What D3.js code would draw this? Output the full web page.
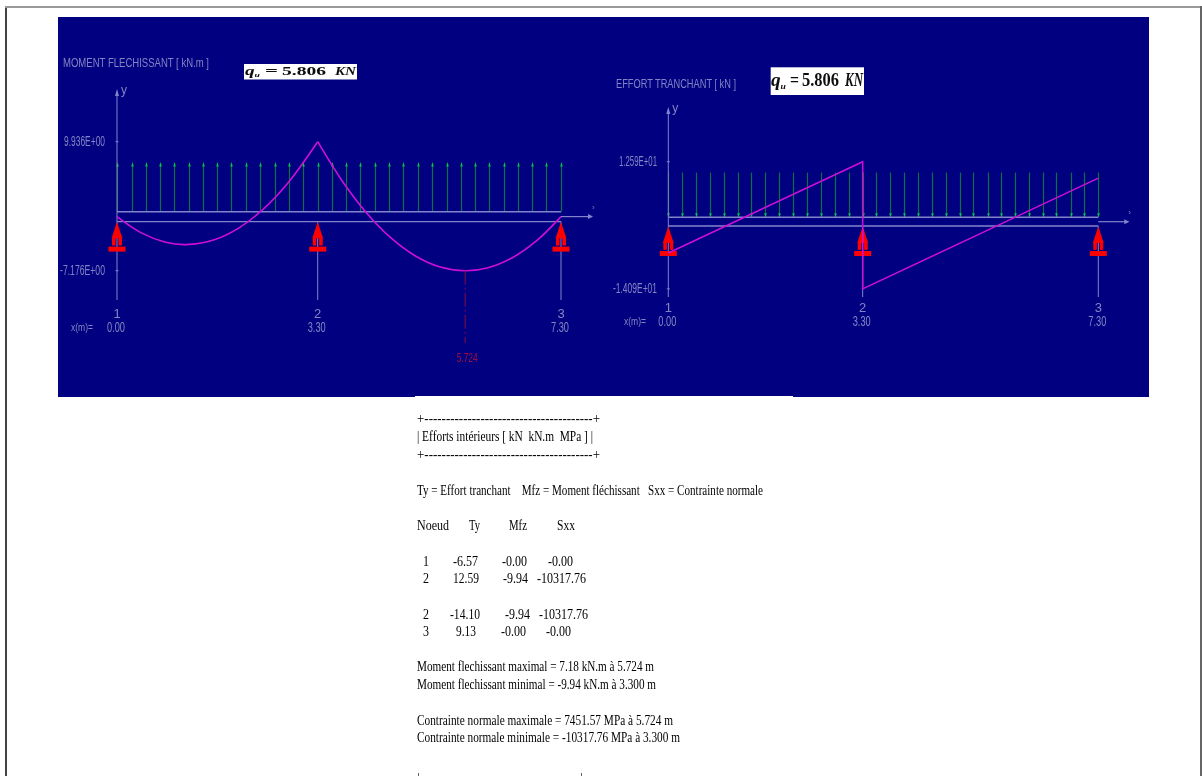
<!DOCTYPE html>
<html><head><meta charset="utf-8">
<script src="https://cdn.jsdelivr.net/npm/d3@7/dist/d3.min.js"></script>
<style>html,body{margin:0;padding:0;background:#fff;overflow:hidden}svg{display:block}</style></head>
<body><svg id="c" width="1202" height="776"></svg>
<script>
// ---- data ----
const nodeIds = ["1","2","3"];
const nodeX = [0, 3.3, 7.3];
const nodeLabels = ["0.00","3.30","7.30"];
const loadStations = [0,0.24,0.47,0.71,0.94,1.18,1.41,1.65,1.88,2.12,2.35,2.59,2.83,3.06,3.3,3.53,3.77,4.0,4.24,4.47,4.71,4.95,5.18,5.42,5.65,5.89,6.12,6.36,6.59,6.83,7.06,7.3];
const momentX = [0,0.4,0.8,1.13,1.6,2,2.4,2.8,3.3];
const momentY = [0,-2.16,-3.40,-3.72,-3.08,-1.53,0.95,4.36,9.936];
const moment2X = [3.3,3.7,4.1,4.5,4.9,5.3,5.724,6.1,6.5,6.9,7.3];
const moment2Y = [9.936,4.76,0.52,-2.80,-5.19,-6.65,-7.176,-6.78,-5.45,-3.2,0];
const shearX = [0,3.3,3.3,7.3];
const shearY = [-6.57,12.59,-14.09,9.13];
const momentTicks = [9.936,-7.176];
const momentTickLabels = ["9.936E+00","-7.176E+00"];
const shearTicks = [12.59,-14.09];
const shearTickLabels = ["1.259E+01","-1.409E+01"];
const maxMomentX = 5.724;
const tableLines = [
 {t:"+---------------------------------------+",x:417,y:423,w:183},
 {t:"| Efforts intérieurs [ kN  kN.m  MPa ] |",x:417,y:441,w:176},
 {t:"+---------------------------------------+",x:417,y:459,w:183},
 {t:"Ty = Effort tranchant    Mfz = Moment fléchissant   Sxx = Contrainte normale",x:417,y:495,w:346},
 {t:"Noeud",x:417,y:530,w:32},{t:"Ty",x:469,y:530,w:11},{t:"Mfz",x:509,y:530,w:18},{t:"Sxx",x:557,y:530,w:18},
 {t:"1",x:423,y:566,w:6},{t:"-6.57",x:453,y:566,w:25},{t:"-0.00",x:502,y:566,w:25},{t:"-0.00",x:548,y:566,w:25},
 {t:"2",x:423,y:583,w:6},{t:"12.59",x:453,y:583,w:26},{t:"-9.94",x:503,y:583,w:25},{t:"-10317.76",x:537,y:583,w:49},
 {t:"2",x:423,y:619,w:6},{t:"-14.10",x:450,y:619,w:30},{t:"-9.94",x:505,y:619,w:25},{t:"-10317.76",x:539,y:619,w:49},
 {t:"3",x:423,y:636,w:6},{t:"9.13",x:456,y:636,w:20},{t:"-0.00",x:501,y:636,w:25},{t:"-0.00",x:546,y:636,w:25},
 {t:"Moment flechissant maximal = 7.18 kN.m à 5.724 m",x:417,y:671,w:237},
 {t:"Moment flechissant minimal = -9.94 kN.m à 3.300 m",x:417,y:689,w:239},
 {t:"Contrainte normale maximale = 7451.57 MPa à 5.724 m",x:417,y:725,w:256},
 {t:"Contrainte normale minimale = -10317.76 MPa à 3.300 m",x:417,y:742,w:263},
 {t:"+",x:415,y:781,w:7},{t:"+",x:578,y:781,w:7}
];
// ---- drawing ----
const BLUE="#000080", AX="#8484cc", TXT="#8484c4", GREEN="#0a7040", HEAD="#00c848", MAG="#d010d8", RED="#ff0000";
const svg=d3.select("#c");
const defs=svg.append("defs");
defs.append("filter").attr("id","soft").append("feGaussianBlur").attr("stdDeviation",0.35);
defs.append("filter").attr("id","softer").append("feGaussianBlur").attr("stdDeviation",0.45);

// page frame
[[5,6,2,770,"#444"],[5,6,1197,2,"#999"],[1200,6,2,770,"#666"]].forEach(r=>
  svg.append("rect").attr("x",r[0]).attr("y",r[1]).attr("width",r[2]).attr("height",r[3]).attr("fill",r[4]));
svg.append("rect").attr("x",58).attr("y",17).attr("width",1091).attr("height",380).attr("fill",BLUE);
svg.append("rect").attr("x",415).attr("y",396).attr("width",378).attr("height",1).attr("fill","#fff");

function diagram(o){
  const x=d3.scaleLinear().domain([0,7.3]).range(o.xr);
  const y=d3.scaleLinear().domain([0,o.tick0]).range([o.y0,o.yTick0]);
  const g=svg.append("g").attr("filter","url(#soft)");
  const tg=svg.append("g").attr("filter","url(#softer)");
  const px=v=>Math.round(v)+0.5;
  const line=(a,b,c,d,col,w)=>g.append("line").attr("x1",a).attr("y1",b).attr("x2",c).attr("y2",d).attr("stroke",col||AX).attr("stroke-width",w||1);
  const txt=(s,a,b,w,size,col,anchor)=>{const t=tg.append("text").attr("x",a).attr("y",b).text(s)
     .attr("font-family","'Liberation Sans Narrow','Liberation Sans',sans-serif").attr("font-size",size||10).attr("fill",col||TXT).attr("text-anchor",anchor||"start");
     if(w) t.attr("textLength",w).attr("lengthAdjust","spacingAndGlyphs");return t;};
  // load arrows
  g.selectAll(".load").data(loadStations).join("line").attr("class","load")
    .attr("x1",d=>px(x(d))).attr("x2",d=>px(x(d))).attr("y1",o.loadTop).attr("y2",o.beamTop).attr("stroke",GREEN).attr("stroke-width",1.2);
  g.selectAll(".head").data(loadStations).join("path").attr("class","head").attr("fill",HEAD)
    .attr("d",d=>{const p=px(x(d));const tip=o.down?o.beamTop:o.loadTop;const s=o.down?-4:4;return `M${p},${tip}L${p-1.3},${tip+s}L${p+1.3},${tip+s}Z`;});
  // beam
  line(x(0),o.beamTop,x(7.3),o.beamTop,AX,1.4);
  line(x(0),o.beamBot,x(7.3),o.beamBot,AX,1.4);
  // axes
  line(x(0),o.axisTop,x(0),o.axisBot);
  g.append("path").attr("d",`M${x(0)},${o.axisTop-3}l-2,7h4z`).attr("fill",AX);
  txt("y",x(0)+4,o.axisTop+2,null,12);
  line(x(7.3),o.y0,x(7.3)+o.xLen,o.y0,AX,1.2);
  g.append("path").attr("d",`M${x(7.3)+o.xLen+1},${o.y0}l-5,-2.5v5z`).attr("fill",AX);
  txt("›",x(7.3)+o.xLen,o.y0-7,null,8);
  // node verticals and labels
  nodeX.forEach((n,i)=>{
    if(i>0) line(x(n),o.beamBot,x(n),o.axisBot);
    txt(nodeIds[i],x(n),o.idY,null,13,TXT,"middle");
    txt(nodeLabels[i],x(n)-1,o.labY,18,14,TXT,"middle");
  });
  txt("x(m)=",o.xmX,o.labY-1,22,10);
  // ticks
  o.ticks.forEach((t,i)=>{line(x(0)-1.5,y(t),x(0)+1.5,y(t));
    txt(o.tickLabels[i],o.tickRight,y(t)+4,o.tickW[i],14,TXT,"end");});
  // supports
  nodeX.forEach(n=>{const c=x(n),t=o.beamBot+.5;
    g.append("path").attr("fill",RED).attr("d",`M${c},${t}L${c-5.5},${t+16.5}H${c+5.5}Z`);
    g.append("rect").attr("x",c-5).attr("y",t+16).attr("width",3.6).attr("height",7.5).attr("rx",1.2).attr("fill",RED);
    g.append("rect").attr("x",c+1.4).attr("y",t+16).attr("width",3.6).attr("height",7.5).attr("rx",1.2).attr("fill",RED);
    g.append("rect").attr("x",c-8.5).attr("y",t+24.5).attr("width",17).attr("height",5).attr("fill",RED);
  });
  o.draw(g,x,y,txt);
  txt(o.title,o.titleX,o.titleY,o.titleW,13.5);
}

diagram({xr:[117,561],y0:216.6,tick0:9.936,yTick0:141.7,beamTop:211.7,beamBot:221.6,loadTop:162.5,down:false,
  axisTop:92,axisBot:300,xLen:31,idY:318,labY:332,xmX:71,ticks:momentTicks,tickLabels:momentTickLabels,tickRight:105,tickW:[41,45],
  title:"MOMENT FLECHISSANT [ kN.m ]",titleX:63,titleY:67,titleW:146,
  draw(g,x,y,txt){
    const l=d3.line().x(d=>x(d[0])).y(d=>y(d[1])).curve(d3.curveCatmullRom.alpha(0.5));
    g.append("path").attr("d",l(d3.zip(momentX,momentY))).attr("fill","none").attr("stroke",MAG).attr("stroke-width",1.6);
    g.append("path").attr("d",l(d3.zip(moment2X,moment2Y))).attr("fill","none").attr("stroke",MAG).attr("stroke-width",1.6);
    g.append("line").attr("x1",x(maxMomentX)).attr("x2",x(maxMomentX)).attr("y1",y(-7.176)).attr("y2",343)
      .attr("stroke","#6a0a50").attr("stroke-width",1.3).attr("stroke-dasharray","14,3,2,3");
    txt("5.724",x(maxMomentX)+2,362,21,13,"#a01040","middle");
  }});

diagram({xr:[668.3,1098.3],y0:221.7,tick0:12.59,yTick0:161.7,beamTop:217.3,beamBot:226,loadTop:172.5,down:true,
  axisTop:110,axisBot:297,xLen:30,idY:312,labY:326,xmX:624,ticks:shearTicks,tickLabels:shearTickLabels,tickRight:657,tickW:[38,44],
  title:"EFFORT TRANCHANT [ kN ]",titleX:616,titleY:88,titleW:120,
  draw(g,x,y){
    const l=d3.line().x(d=>x(d[0])).y(d=>y(d[1]));
    g.append("path").attr("d",l(d3.zip(shearX,shearY))).attr("fill","none").attr("stroke",MAG).attr("stroke-width",1.5);
  }});

// q boxes: q with its subscript is one text; the other pieces are placed separately
function qBox(b){
  svg.append("rect").attr("x",b.x).attr("y",b.y).attr("width",b.w).attr("height",b.h).attr("fill","#fff");
  const g=svg.append("g").attr("filter","url(#soft)").attr("font-family","'Liberation Serif',serif").attr("font-weight","bold").attr("fill","#111");
  const put=(s,px,py,size,tw,ital)=>g.append("text").attr("x",px).attr("y",py).text(s).attr("font-size",size)
     .attr("font-style",ital?"italic":"normal").attr("textLength",tw).attr("lengthAdjust","spacingAndGlyphs");
  const q=put("q",b.qx,b.base,b.size,b.qw,true);
  q.append("tspan").attr("font-size",b.size*0.5).attr("dy",b.size*0.18).text("u");
  put("=",b.ex,b.base,b.size,b.ew,false);
  put("5.806",b.nx,b.base,b.size,b.nw,false);
  put("KN",b.kx,b.base,b.size,b.kw,true);
}
qBox({x:244,y:64,w:113,h:15.5,base:74.5,size:12,qx:245,qw:15,ex:265,ew:13,nx:282,nw:44,kx:335,kw:21});
qBox({x:770.7,y:67.3,w:93.3,h:27.7,base:85.5,size:18,qx:771,qw:15,ex:790,ew:9,nx:802,nw:37,kx:845,kw:18});

// text block
svg.append("g").attr("filter","url(#soft)").selectAll("text").data(tableLines).join("text")
  .attr("x",d=>d.x).attr("y",d=>d.y).text(d=>d.t).style("white-space","pre")
  .attr("font-family","'Liberation Serif',serif").attr("font-size",14).attr("fill","#000")
  .attr("textLength",d=>d.w).attr("lengthAdjust","spacingAndGlyphs");
</script></body></html>
